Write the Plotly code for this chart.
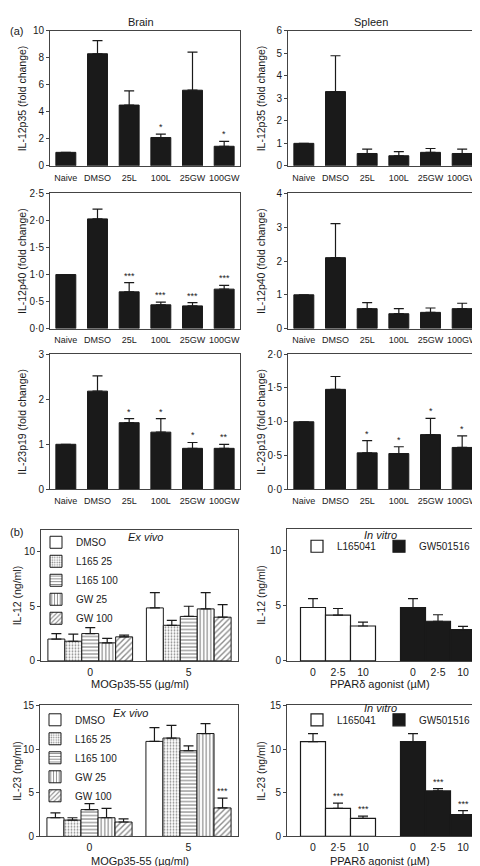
import plotly.graph_objects as go

# ---------------- DATA ----------------
groups_a = ["Naive", "DMSO", "25L", "100L", "25GW", "100GW"]

brain_p35 = [1.0, 8.3, 4.5, 2.1, 5.6, 1.45]
brain_p35_err = [0, 0.97, 1.05, 0.25, 2.82, 0.36]
brain_p35_sig = ["", "", "", "*", "", "*"]

spleen_p35 = [1.0, 3.3, 0.55, 0.45, 0.6, 0.55]
spleen_p35_err = [0, 1.59, 0.19, 0.18, 0.17, 0.19]
spleen_p35_sig = ["", "", "", "", "", ""]

brain_p40 = [1.0, 2.03, 0.68, 0.44, 0.42, 0.73]
brain_p40_err = [0, 0.18, 0.17, 0.05, 0.06, 0.07]
brain_p40_sig = ["", "", "***", "***", "***", "***"]

spleen_p40 = [1.0, 2.1, 0.59, 0.44, 0.48, 0.59]
spleen_p40_err = [0, 1.01, 0.18, 0.15, 0.13, 0.16]
spleen_p40_sig = ["", "", "", "", "", ""]

brain_p19 = [1.0, 2.18, 1.48, 1.27, 0.91, 0.91]
brain_p19_err = [0, 0.34, 0.09, 0.30, 0.13, 0.09]
brain_p19_sig = ["", "", "*", "*", "*", "**"]

spleen_p19 = [1.0, 1.48, 0.54, 0.53, 0.81, 0.62]
spleen_p19_err = [0, 0.19, 0.18, 0.10, 0.24, 0.17]
spleen_p19_sig = ["", "", "*", "*", "*", "*"]

ex_series = ["DMSO", "L165 25", "L165 100", "GW 25", "GW 100"]
mog_doses = ["0", "5"]

il12_ex_dmso = [2.0, 4.85]
il12_ex_l25 = [1.8, 3.26]
il12_ex_l100 = [2.5, 4.07]
il12_ex_gw25 = [1.65, 4.76]
il12_ex_gw100 = [2.2, 4.0]
il12_ex_dmso_err = [0.5, 1.4]
il12_ex_l25_err = [0.65, 0.44]
il12_ex_l100_err = [0.55, 0.93]
il12_ex_gw25_err = [0.42, 1.49]
il12_ex_gw100_err = [0.15, 1.15]

il23_ex_dmso = [2.14, 10.87]
il23_ex_l25 = [1.87, 11.25]
il23_ex_l100 = [3.07, 9.8]
il23_ex_gw25 = [2.14, 11.77]
il23_ex_gw100 = [1.65, 3.26]
il23_ex_dmso_err = [0.56, 1.58]
il23_ex_l25_err = [0.27, 1.45]
il23_ex_l100_err = [0.68, 0.55]
il23_ex_gw25_err = [1.08, 1.13]
il23_ex_gw100_err = [0.35, 1.13]
il23_ex_gw100_sig = ["", "***"]

agonists = ["L165041", "GW501516"]
agonist_doses = ["0", "2·5", "10"]

il12_vitro_L = [4.85, 4.16, 3.17]
il12_vitro_L_err = [0.81, 0.6, 0.36]
il12_vitro_GW = [4.85, 3.6, 2.84]
il12_vitro_GW_err = [0.81, 0.59, 0.3]

il23_vitro_L = [10.84, 3.22, 2.06]
il23_vitro_L_err = [0.93, 0.6, 0.26]
il23_vitro_L_sig = ["", "***", "***"]
il23_vitro_GW = [10.84, 5.21, 2.51]
il23_vitro_GW_err = [0.93, 0.26, 0.45]
il23_vitro_GW_sig = ["", "***", "***"]

# ---------------- LAYOUT HELPERS ----------------
W, H = 480, 866
FONT = "Liberation Sans, Arial, sans-serif"
INK = "#1a1a1a"
LINE = "#444444"


def xdom(a, b):
    return [a / W, b / W]


def ydom(top, bot):
    return [1 - bot / H, 1 - top / H]


fig = go.Figure()
annotations = []

boxes = {
    1: (42, 232, 17, 154),
    2: (280, 470, 17, 154),
    3: (42, 232, 182, 319),
    4: (280, 470, 182, 319),
    5: (42, 232, 345, 482),
    6: (280, 470, 345, 482),
    7: (33, 230, 523, 656),
    8: (279, 473, 522, 656),
    9: (32, 230, 701, 834),
    10: (279, 473, 701, 834),
}


def axn(i, kind):
    return kind if i == 1 else f"{kind}{i}"


def ref(i, kind):
    return kind if i == 1 else f"{kind}{i}"


def err_dict(e):
    return dict(type="data", array=e, arrayminus=[0] * len(e), symmetric=False,
                color=INK, thickness=1.2, width=5)


def add_stars(i, xs, tops, sigs, size=9, xshift=0):
    for x, t, s in zip(xs, tops, sigs):
        if s:
            annotations.append(dict(x=x, y=t, xref=ref(i, "x"), yref=ref(i, "y"), text=s,
                                    showarrow=False, yanchor="bottom", xshift=xshift,
                                    font=dict(size=size, color=INK, family=FONT)))


def ytitle(px, py, text):
    annotations.append(dict(x=px / W, y=1 - py / H, xref="paper", yref="paper", text=text,
                            showarrow=False, textangle=-90, xanchor="center", yanchor="middle",
                            font=dict(size=10.5, color=INK, family=FONT)))


def ptext(px, py, text, size=11, italic=False):
    annotations.append(dict(x=px / W, y=1 - py / H, xref="paper", yref="paper",
                            text=f"<i>{text}</i>" if italic else text,
                            showarrow=False, xanchor="center", yanchor="middle",
                            font=dict(size=size, color=INK, family=FONT)))


def yaxis_style(i, yr, tv, tt=None):
    x0, x1, y0, y1 = boxes[i]
    return dict(domain=ydom(y0, y1), anchor=ref(i, "x"), range=yr, tickvals=tv,
                ticktext=tt if tt else [str(v) for v in tv],
                showline=True, mirror=True, linecolor=LINE, linewidth=1,
                ticks="outside", ticklen=3, tickcolor=LINE,
                tickfont=dict(size=10, color=INK, family=FONT),
                showgrid=False, zeroline=False)


# ---------------- PANEL (a) ----------------
panels_a = [
    (1, brain_p35, brain_p35_err, brain_p35_sig, [0, 10], [0, 2, 4, 6, 8, 10], None, "IL-12p35 (fold change)"),
    (2, spleen_p35, spleen_p35_err, spleen_p35_sig, [0, 6], [0, 1, 2, 3, 4, 5, 6], None, "IL-12p35 (fold change)"),
    (3, brain_p40, brain_p40_err, brain_p40_sig, [0, 2.5], [0, 0.5, 1, 1.5, 2, 2.5],
     ["0·0", "0·5", "1·0", "1·5", "2·0", "2·5"], "IL-12p40 (fold change)"),
    (4, spleen_p40, spleen_p40_err, spleen_p40_sig, [0, 4], [0, 1, 2, 3, 4], None, "IL-12p40 (fold change)"),
    (5, brain_p19, brain_p19_err, brain_p19_sig, [0, 3], [0, 1, 2, 3], None, "IL-23p19 (fold change)"),
    (6, spleen_p19, spleen_p19_err, spleen_p19_sig, [0, 2], [0, 0.5, 1, 1.5, 2],
     ["0·0", "0·5", "1·0", "1·5", "2·0"], "IL-23p19 (fold change)"),
]

layout_axes = {}

for i, vals, errs, sigs, yr, tv, tt, title in panels_a:
    x0, x1, y0, y1 = boxes[i]
    fig.add_trace(go.Bar(x=groups_a, y=vals, xaxis=ref(i, "x"), yaxis=ref(i, "y"),
                         marker=dict(color=INK, line=dict(color=INK, width=1)),
                         error_y=err_dict(errs), showlegend=False, width=0.63))
    add_stars(i, groups_a, [v + e for v, e in zip(vals, errs)], sigs)
    layout_axes[axn(i, "xaxis")] = dict(domain=xdom(x0, x1), anchor=ref(i, "y"), type="category",
                                        range=[-0.5, 5.5], showline=True, mirror=True,
                                        linecolor=LINE, linewidth=1, ticks="", tickangle=0,
                                        tickfont=dict(size=9, color=INK, family=FONT),
                                        ticklabelstandoff=3, showgrid=False, fixedrange=True)
    layout_axes[axn(i, "yaxis")] = yaxis_style(i, yr, tv, tt)
    ytitle(14 if i % 2 else 253, (y0 + y1) / 2, title)

# ---------------- PANEL (b) ex vivo ----------------
patterns = [
    dict(shape=""),
    dict(shape=".", size=3, solidity=0.3, fgcolor=INK, bgcolor="white"),
    dict(shape="-", size=3.5, solidity=0.35, fgcolor=INK, bgcolor="white"),
    dict(shape="|", size=3.5, solidity=0.35, fgcolor=INK, bgcolor="white"),
    dict(shape="/", size=4, solidity=0.35, fgcolor=INK, bgcolor="white"),
]

ex_panels = [
    (7, "legend2", [il12_ex_dmso, il12_ex_l25, il12_ex_l100, il12_ex_gw25, il12_ex_gw100],
     [il12_ex_dmso_err, il12_ex_l25_err, il12_ex_l100_err, il12_ex_gw25_err, il12_ex_gw100_err],
     [0, 12], [0, 5, 10], "IL-12 (ng/ml)"),
    (9, "legend4", [il23_ex_dmso, il23_ex_l25, il23_ex_l100, il23_ex_gw25, il23_ex_gw100],
     [il23_ex_dmso_err, il23_ex_l25_err, il23_ex_l100_err, il23_ex_gw25_err, il23_ex_gw100_err],
     [0, 15], [0, 5, 10, 15], "IL-23 (ng/ml)"),
]

for i, leg, series, errs, yr, tv, title in ex_panels:
    x0, x1, y0, y1 = boxes[i]
    for name, vals, e, pat in zip(ex_series, series, errs, patterns):
        fig.add_trace(go.Bar(x=mog_doses, y=vals, name=name, xaxis=ref(i, "x"), yaxis=ref(i, "y"),
                             marker=dict(color="white", line=dict(color=INK, width=1), pattern=pat),
                             error_y=err_dict(e), legend=leg, offsetgroup=name))
    layout_axes[axn(i, "xaxis")] = dict(domain=xdom(x0, x1), anchor=ref(i, "y"), type="category",
                                        range=[-0.5, 1.5], showline=True, mirror=True,
                                        linecolor=LINE, linewidth=1, ticks="",
                                        tickfont=dict(size=10.5, color=INK, family=FONT),
                                        ticklabelstandoff=1, showgrid=False)
    layout_axes[axn(i, "yaxis")] = yaxis_style(i, yr, tv)
    ytitle(9, (y0 + y1) / 2, title)

# stars on IL-23 ex vivo GW 100 (last member of each group -> shifted right by two bar widths)
bar_px = (boxes[9][1] - boxes[9][0]) / len(mog_doses) * (1 - 0.14) / len(ex_series)
add_stars(9, list(range(len(mog_doses))),
          [v + e for v, e in zip(il23_ex_gw100, il23_ex_gw100_err)], il23_ex_gw100_sig,
          xshift=2 * bar_px)

# ---------------- PANEL (b) in vitro ----------------
n = len(agonist_doses)
pos_L = list(range(n))
pos_GW = [p + n + 1 for p in range(n)]
vitro_panels = [
    (8, ("legend3", "legend6"), il12_vitro_L, il12_vitro_L_err, il12_vitro_GW, il12_vitro_GW_err,
     None, None, [0, 12], [0, 5, 10], "IL-12 (ng/ml)"),
    (10, ("legend5", "legend7"), il23_vitro_L, il23_vitro_L_err, il23_vitro_GW, il23_vitro_GW_err,
     il23_vitro_L_sig, il23_vitro_GW_sig, [0, 15], [0, 5, 10, 15], "IL-23 (ng/ml)"),
]
for i, legs, vL, eL, vG, eG, sL, sG, yr, tv, title in vitro_panels:
    x0, x1, y0, y1 = boxes[i]
    fig.add_trace(go.Bar(x=pos_L, y=vL, name=agonists[0], xaxis=ref(i, "x"), yaxis=ref(i, "y"),
                         width=1, marker=dict(color="white", line=dict(color=INK, width=1.2)),
                         error_y=err_dict(eL), legend=legs[0], offsetgroup="a"))
    fig.add_trace(go.Bar(x=pos_GW, y=vG, name=agonists[1], xaxis=ref(i, "x"), yaxis=ref(i, "y"),
                         width=1, marker=dict(color=INK, line=dict(color=INK, width=1.2)),
                         error_y=err_dict(eG), legend=legs[1], offsetgroup="a"))
    if sL:
        add_stars(i, pos_L, [v + e for v, e in zip(vL, eL)], sL)
    if sG:
        add_stars(i, pos_GW, [v + e for v, e in zip(vG, eG)], sG)
    layout_axes[axn(i, "xaxis")] = dict(domain=xdom(x0, x1), anchor=ref(i, "y"),
                                        range=[-1.04, 6.72], tickvals=pos_L + pos_GW,
                                        ticktext=agonist_doses + agonist_doses,
                                        showline=True, mirror=True, linecolor=LINE, linewidth=1,
                                        ticks="", tickfont=dict(size=10.5, color=INK, family=FONT),
                                        ticklabelstandoff=1, showgrid=False, zeroline=False)
    layout_axes[axn(i, "yaxis")] = yaxis_style(i, yr, tv)
    ytitle(253, (y0 + y1) / 2, title)

# ---------------- TEXT ----------------
ptext(133, 8, "Brain")
ptext(363, 8, "Spleen")
ptext(8, 17, "(a)")
ptext(8, 525, "(b)")
ptext(137, 530, "Ex vivo", italic=True)
ptext(123, 709, "Ex vivo", italic=True)
ptext(372, 528, "In vitro", italic=True)
ptext(372, 704, "In vitro", italic=True)
ptext(132, 679, "MOGp35-55 (µg/ml)")
ptext(132, 859, "MOGp35-55 (µg/ml)")
ptext(372, 679, "PPARδ agonist (µM)")
ptext(372, 859, "PPARδ agonist (µM)")

legfont = dict(size=10, color=INK, family=FONT)


def leg(px, py, vertical=True):
    d = dict(x=px / W, y=1 - py / H, xanchor="left", yanchor="top", bgcolor="rgba(0,0,0,0)",
             font=legfont, itemwidth=30, tracegroupgap=0)
    if not vertical:
        d["orientation"] = "h"
    return d


fig.update_layout(
    width=W, height=H, margin=dict(l=0, r=0, t=0, b=0),
    paper_bgcolor="white", plot_bgcolor="white",
    barmode="group", bargap=0.14, bargroupgap=0,
    font=dict(family=FONT, color=INK),
    annotations=annotations,
    legend2=leg(28, 521),
    legend4=leg(27, 701),
    legend3=leg(289, 525, False),
    legend6=leg(371, 525, False),
    legend5=leg(289, 701, False),
    legend7=leg(371, 701, False),
    **layout_axes,
)

fig.write_html("out.html")
